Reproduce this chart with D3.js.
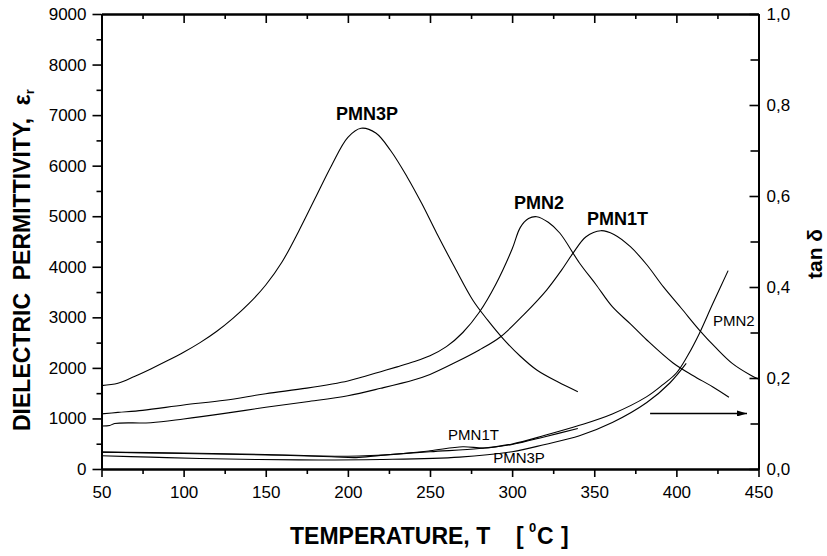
<!DOCTYPE html>
<html><head><meta charset="utf-8">
<script src="https://cdn.jsdelivr.net/npm/d3@7"></script>
<style>
body{margin:0;background:#fff}
text{font-family:"Liberation Sans",Arial,sans-serif;fill:#000}
</style></head>
<body><svg id="c" width="827" height="556"></svg>
<script>
// ---- data ----
const tempTicks = [50,100,150,200,250,300,350,400,450];
const epsTicks = [0,1000,2000,3000,4000,5000,6000,7000,8000,9000];
const tanTicks = [0,0.2,0.4,0.6,0.8,1.0];
const tanTickLabels = ["0,0","0,2","0,4","0,6","0,8","1,0"];

const epsPMN3P = [[50,1650],[60,1695],[70,1830],[80,1980],[90,2140],[100,2310],[110,2500],[120,2720],[130,2980],[140,3280],[150,3640],[160,4100],[170,4700],[180,5350],[190,6000],[200,6560],[208,6740],[217,6646],[226,6300],[236,5782],[245,5250],[254,4668],[265,3990],[276,3343],[285,2950],[295,2560],[305,2230],[315,1958],[328,1720],[340,1530]];
const epsPMN2 = [[50,1090],[60,1120],[75,1160],[100,1266],[125,1360],[150,1490],[175,1600],[200,1740],[210,1830],[220,1925],[230,2020],[240,2120],[250,2240],[260,2420],[270,2700],[280,3100],[290,3650],[300,4350],[305,4780],[310,4955],[315,4991],[322,4880],[329,4668],[341,4075],[351,3650],[361,3210],[372,2870],[382,2552],[398,2097],[410,1850],[422,1628],[432,1420]];
const epsPMN1T = [[50,850],[55,860],[58,900],[80,916],[100,990],[125,1100],[150,1220],[175,1330],[200,1450],[220,1596],[240,1760],[250,1870],[265,2100],[280,2354],[293,2617],[307,3050],[321,3540],[330,3930],[337,4266],[345,4595],[354,4714],[362,4640],[372,4397],[382,4040],[392,3606],[403,3180],[414,2749],[424,2400],[434,2090],[445,1860],[450,1780]];

const tanPMN1T = [[50,0.037],[100,0.035],[150,0.032],[200,0.028],[230,0.033],[250,0.040],[270,0.049],[283,0.046],[300,0.054],[320,0.071],[340,0.089]];
const tanPMN2 = [[50,0.037],[100,0.034],[150,0.031],[190,0.027],[205,0.025],[220,0.030],[250,0.038],[280,0.045],[300,0.055],[320,0.074],[341,0.096],[361,0.121],[382,0.159],[392,0.186],[400,0.211],[407,0.25],[414,0.298],[422,0.362],[431.5,0.436]];
const tanPMN3P = [[50,0.029],[80,0.026],[110,0.023],[170,0.020],[220,0.021],[268,0.026],[300,0.038],[320,0.054],[341,0.073],[361,0.102],[382,0.146],[396,0.189],[406,0.232]];

const boldLabels = [["PMN3P",211.6,6900],["PMN2",316.4,5143],["PMN1T",364.2,4826]];
const smallLabels = [["PMN1T",276.5,0.064],["PMN3P",304.2,0.013],["PMN2",435,0.314]];
const arrowFrom = [384,0.122], arrowTo = [443,0.122];

// ---- chart ----
const svg = d3.select("#c");
const L=101.5, R=758.5, T=14, B=469;
const x = d3.scaleLinear().domain([50,450]).range([L,R]);
const y = d3.scaleLinear().domain([0,9000]).range([B,T]);
const yR = d3.scaleLinear().domain([0,1]).range([B,T]);

svg.append("defs").append("marker").attr("id","ah").attr("viewBox","0 0 10 6")
  .attr("refX",10).attr("refY",3).attr("markerWidth",13).attr("markerHeight",6)
  .attr("markerUnits","userSpaceOnUse").attr("orient","auto")
  .append("path").attr("d","M0,0L10,3L0,6Z").attr("fill","#000");

function styleAxis(g){
  g.select(".domain").attr("stroke","#000").attr("stroke-width",2);
  g.selectAll(".tick line").attr("stroke","#000").attr("stroke-width",1.6);
  g.selectAll("text").attr("font-size",17).attr("font-family","Liberation Sans, Arial, sans-serif");
}
const minorEps = d3.range(500,9000,1000);
const minorT = d3.range(75,450,50);
const minorTan = [0.1,0.3,0.5,0.7,0.9];

// left
svg.append("g").attr("transform",`translate(${L},0)`).call(d3.axisLeft(y).tickValues(minorEps).tickSize(5).tickSizeOuter(0).tickFormat("")).call(styleAxis);
svg.append("g").attr("transform",`translate(${L},0)`).call(d3.axisLeft(y).tickValues(epsTicks).tickSize(9).tickPadding(6).tickSizeOuter(0).tickFormat(d3.format("d"))).call(styleAxis);
// bottom
svg.append("g").attr("transform",`translate(0,${B})`).call(d3.axisBottom(x).tickValues(minorT).tickSize(5).tickSizeOuter(0).tickFormat("")).call(styleAxis);
svg.append("g").attr("transform",`translate(0,${B})`).call(d3.axisBottom(x).tickValues(tempTicks).tickSize(8).tickPadding(9).tickSizeOuter(0)).call(styleAxis);
// top
svg.append("g").attr("transform",`translate(0,${T})`).call(d3.axisTop(x).tickValues(minorT).tickSize(-5).tickSizeOuter(0).tickFormat("")).call(styleAxis);
svg.append("g").attr("transform",`translate(0,${T})`).call(d3.axisTop(x).tickValues(tempTicks).tickSize(-9).tickSizeOuter(0).tickFormat("")).call(styleAxis);
// right
svg.append("g").attr("transform",`translate(${R},0)`).call(d3.axisRight(yR).tickValues(minorTan).tickSize(-8).tickSizeOuter(0).tickFormat("")).call(styleAxis);
svg.append("g").attr("transform",`translate(${R},0)`).call(d3.axisRight(yR).tickValues(tanTicks).tickSize(-9).tickPadding(8).tickSizeOuter(0).tickFormat((d,i)=>tanTickLabels[i])).call(styleAxis);

// curves
const lineE = d3.line().x(d=>x(d[0])).y(d=>y(d[1])).curve(d3.curveCatmullRom.alpha(0.5));
const lineT = d3.line().x(d=>x(d[0])).y(d=>yR(d[1])).curve(d3.curveCatmullRom.alpha(0.5));
[epsPMN3P,epsPMN2,epsPMN1T].forEach(s=>svg.append("path").attr("d",lineE(s)).attr("fill","none").attr("stroke","#000").attr("stroke-width",1.1));
[tanPMN1T,tanPMN2,tanPMN3P].forEach(s=>svg.append("path").attr("d",lineT(s)).attr("fill","none").attr("stroke","#000").attr("stroke-width",1.1));

// arrow
svg.append("line").attr("x1",x(arrowFrom[0])).attr("y1",yR(arrowFrom[1])).attr("x2",x(arrowTo[0])).attr("y2",yR(arrowTo[1]))
  .attr("stroke","#000").attr("stroke-width",1.3).attr("marker-end","url(#ah)");

// labels
boldLabels.forEach(([t,a,b])=>svg.append("text").attr("x",x(a)).attr("y",y(b)).attr("text-anchor","middle").attr("font-size",18).attr("font-weight","bold").text(t));
smallLabels.forEach(([t,a,b])=>svg.append("text").attr("x",x(a)).attr("y",yR(b)).attr("text-anchor","middle").attr("font-size",15).text(t));

// axis titles
const lt = svg.append("text").attr("transform","translate(30,431) rotate(-90)").attr("font-size",23).attr("font-weight","bold").attr("xml:space","preserve");
lt.append("tspan").text("DIELECTRIC  PERMITTIVITY,  ε");
lt.append("tspan").attr("font-size",13).attr("dy",4).text("r");

const bt = svg.append("g").attr("font-size",23).attr("font-weight","bold");
bt.append("text").attr("x",290).attr("y",544).text("TEMPERATURE, T");
bt.append("text").attr("x",516).attr("y",544).text("[");
bt.append("text").attr("x",529).attr("y",532).attr("font-size",13).text("0");
bt.append("text").attr("x",537).attr("y",544).text("C");
bt.append("text").attr("x",561).attr("y",544).text("]");

svg.append("text").attr("transform","translate(822,254) rotate(-90)").attr("text-anchor","middle").attr("font-size",21).attr("font-weight","bold").text("tan δ");
</script></body></html>
